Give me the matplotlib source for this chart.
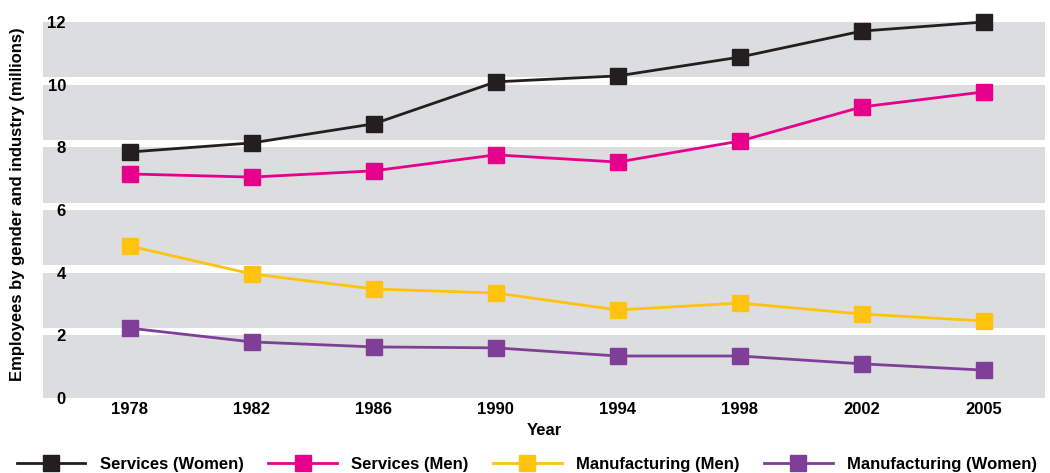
import matplotlib.pyplot as plt
from matplotlib import font_manager

names = {f.name for f in font_manager.fontManager.ttflist}
font = 'Liberation Sans Narrow' if 'Liberation Sans Narrow' in names else 'Liberation Sans'
plt.rcParams['font.family'] = [font, 'DejaVu Sans']
plt.rcParams['font.weight'] = 'bold'

years = ['1978', '1982', '1986', '1990', '1994', '1998', '2002', '2005']
services_women = [7.85, 8.14, 8.75, 10.09, 10.28, 10.88, 11.71, 12.0]
services_men = [7.15, 7.05, 7.25, 7.76, 7.53, 8.2, 9.29, 9.77]
manufacturing_men = [4.85, 3.96, 3.48, 3.35, 2.81, 3.03, 2.68, 2.46]
manufacturing_women = [2.23, 1.79, 1.63, 1.6, 1.34, 1.34, 1.09, 0.89]

series = [
    ('Services (Women)', services_women, '#231f20'),
    ('Services (Men)', services_men, '#e6008c'),
    ('Manufacturing (Men)', manufacturing_men, '#ffc20e'),
    ('Manufacturing (Women)', manufacturing_women, '#7f3f98'),
]

fig = plt.figure(figsize=(10.5, 4.73), dpi=100)
ax = fig.add_axes([43 / 1050, 1 - 398 / 473, (1045 - 43) / 1050, (398 - 22) / 473])

ax.set_facecolor('#dcdddf')
# white gaps just above each even gridline
for y in [2, 4, 6, 8, 10]:
    ax.axhspan(y, y + 0.23, color='white', lw=0, zorder=0.5)

x = list(range(len(years)))
for label, vals, color in series:
    ax.plot(x, vals, color=color, lw=2, marker='s', markersize=11,
            label=label, zorder=3, clip_on=False)

ax.set_xlim(-0.71, 7.5)
ax.set_ylim(0, 12)
ax.set_xticks(x)
ax.set_xticklabels(years, fontsize=12, fontweight='bold')
ax.set_yticks([0, 2, 4, 6, 8, 10, 12])
ax.set_yticklabels(['0', '2', '4', '6', '8', '10', '12'], fontsize=12, fontweight='bold')
ax.tick_params(axis='y', length=0, pad=-16.5)
ax.tick_params(axis='x', length=0, pad=3)
for s in ax.spines.values():
    s.set_visible(False)

ax.set_xlabel('Year', fontsize=12, fontweight='bold', labelpad=4)
fig.text(18 / 1050, 1 - 204 / 473, 'Employees by gender and industry (millions)',
         rotation=90, ha='center', va='center', fontsize=12, fontweight='bold')

fig.legend(loc='lower left', bbox_to_anchor=(17 / 1050, 1 / 473), ncol=4, frameon=False,
           fontsize=12, handlelength=4.1, handletextpad=0.85, columnspacing=1.5,
           borderpad=0, borderaxespad=0, markerscale=1.0)

fig.savefig('out.png', dpi=100)
